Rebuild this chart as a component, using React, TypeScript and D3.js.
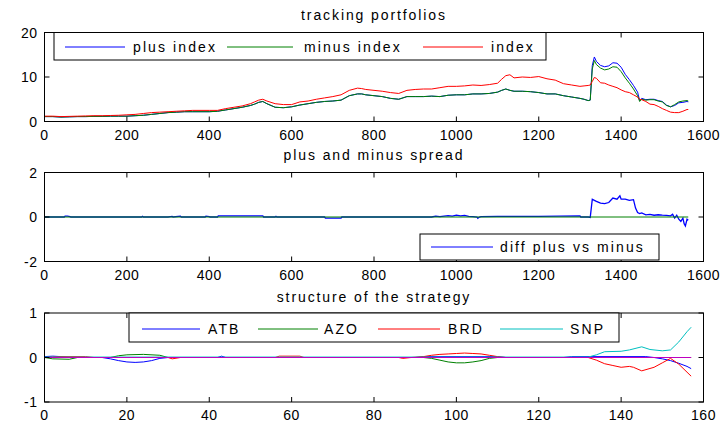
import React from "react";
import * as d3 from "d3";

// ---------- DATA ----------
const dayX = [0,20,40,60,80,100,120,140,160,180,200,220,240,260,280,300,320,340,360,380,400,420,440,460,480,500,
  510,520,530,540,550,560,
  580,600,620,640,660,680,700,720,740,760,
  770,780,
  800,820,840,860,880,900,920,940,960,980,1000,1020,1040,1060,1080,1100,
  1110,1120,1130,1140,
  1160,1180,1200,1220,1240,1260,1280,1300,
  1310,1320,1325,1330,1335,1340,
  1350,1360,1370,1380,1390,1400,1410,1420,1430,1440,
  1445,
  1450,1460,1470,1480,1490,1500,1510,1520,1530,1540,1550,1560,
  1563];

const indexVals = [1.2,1.2,1.1,1.15,1.2,1.25,1.3,1.3,1.35,1.4,1.5,1.6,1.8,2.0,2.1,2.2,2.3,2.4,2.5,2.5,2.5,2.5,2.9,3.2,3.5,4.0,
  4.4,4.8,5.0,4.6,4.3,4.0,
  3.8,3.8,4.4,4.6,5.0,5.3,5.6,6.0,7.0,7.5,
  7.4,7.2,
  7.0,6.8,6.5,6.3,7.0,7.2,7.3,7.3,7.6,7.9,7.9,8.0,8.2,8.1,8.3,8.6,
  9.5,10.3,10.5,9.8,
  10.0,9.9,10.1,9.6,9.3,8.5,8.2,7.9,
  8.0,8.1,8.2,9.0,9.9,9.7,
  8.7,8.6,8.2,7.9,7.6,7.1,6.7,6.5,6.0,5.5,
  5.0,
  4.9,4.5,3.9,3.8,3.4,2.9,2.5,2.1,2.0,2.0,2.3,2.7,
  2.7];

const minusVals = [1.1,1.1,1.0,1.05,1.1,1.1,1.15,1.15,1.2,1.2,1.2,1.3,1.4,1.6,1.8,2.0,2.1,2.2,2.2,2.2,2.2,2.3,2.6,2.9,3.2,3.6,
  3.9,4.3,4.5,4.0,3.6,3.2,
  3.1,3.3,3.7,4.0,4.3,4.5,4.6,4.8,5.8,6.2,
  6.2,6.0,
  5.8,5.6,5.2,5.0,5.6,5.6,5.6,5.7,5.6,5.9,6.0,6.0,6.2,6.2,6.3,6.6,
  7.0,7.3,7.0,6.8,
  6.8,6.7,6.5,6.2,6.2,5.8,5.5,5.2,
  5.0,4.7,4.8,11.8,13.7,12.8,
  12.0,11.6,11.8,12.3,12.2,11.2,9.8,8.6,7.3,5.8,
  4.5,
  5.0,4.8,4.9,4.9,4.6,4.4,3.6,3.3,3.8,4.4,4.6,4.7,
  4.6];

const plusVals = [1.1,1.1,1.0,1.05,1.1,1.1,1.15,1.15,1.2,1.2,1.2,1.3,1.4,1.6,1.8,2.0,2.1,2.2,2.2,2.2,2.2,2.3,2.6,2.9,3.2,3.6,
  3.9,4.3,4.5,4.0,3.6,3.2,
  3.1,3.3,3.7,4.0,4.3,4.5,4.6,4.8,5.8,6.2,
  6.2,6.0,
  5.8,5.6,5.2,5.0,5.6,5.6,5.6,5.7,5.6,5.9,6.0,6.0,6.2,6.2,6.3,6.6,
  7.0,7.3,7.0,6.8,
  6.8,6.7,6.5,6.2,6.2,5.8,5.5,5.2,
  5.0,4.7,4.8,12.6,14.5,13.5,
  12.6,12.3,12.5,13.2,13.1,12.2,10.6,9.4,8.1,6.6,
  4.7,
  5.2,4.9,5.0,5.0,4.7,4.5,3.7,3.3,3.6,4.2,4.3,4.5,
  4.4];

const diffSeries: [number, number][] = [
  [0,0],[48,0],[50,0.04],[56,0.04],[62,0.02],[64,0],[236,0],[238,0.03],[240,0],[300,0],[310,0.03],[312,0],
  [330,0.04],[332,0],[390,0],[392,0.04],[400,0.02],[402,0],[420,0],[422,0.05],[440,0.05],[530,0.05],[532,0],
  [560,0],[562,0.03],[564,0],[680,0],[682,-0.05],[720,-0.05],[722,0],[940,0],[950,0.04],[960,0.02],[980,0.06],
  [990,0.04],[1000,0.08],[1010,0.05],[1020,0.07],[1030,0.03],[1040,0.02],[1050,0],[1052,-0.06],[1056,0],[1060,0.02],
  [1100,0.03],[1200,0.03],[1300,0.05],[1302,0],[1320,0],[1325,-0.02],[1330,0.8],[1335,0.75],[1340,0.7],
  [1350,0.62],[1360,0.6],[1370,0.65],[1380,0.85],[1390,0.8],[1397,0.95],[1400,0.8],[1410,0.8],[1420,0.75],
  [1430,0.78],[1435,0.4],[1440,0.2],[1445,0.15],[1450,0.18],[1460,0.1],[1470,0.12],[1480,0.08],[1490,0.1],
  [1500,0.08],[1510,0.07],[1520,0.05],[1525,0.12],[1530,-0.05],[1535,0.08],[1540,-0.1],[1545,-0.2],
  [1550,-0.05],[1553,-0.3],[1556,-0.4],[1560,-0.1],[1563,-0.15]];

const zeroSeries: [number, number][] = [[0,0],[1563,0]];

const atbSeries: [number, number][] = [[0,0.02],[2,0.03],[4,0.02],[6,0],[14,0],[16,-0.03],[18,-0.07],[20,-0.1],
  [22,-0.11],[24,-0.1],[26,-0.07],[28,-0.02],[30,0],[42,0],[43,0.03],[44,0],[90,0],[92,0.02],[110,0.02],[112,0],
  [126,0],[128,0.02],[146,0.02],[148,0],[150,-0.03],[152,-0.07],[154,-0.13],[156,-0.2],[157,-0.25]];
const azoSeries: [number, number][] = [[0,0],[2,-0.03],[6,-0.04],[8,0],[16,0],[18,0.04],[20,0.06],[24,0.07],
  [28,0.05],[30,0],[92,0],[94,-0.02],[96,-0.06],[98,-0.1],[100,-0.12],[102,-0.12],[104,-0.1],[106,-0.07],
  [108,-0.02],[110,0],[157,0]];
const brdSeries: [number, number][] = [[0,0],[4,0.02],[10,0.02],[12,0],[30,0],[31,-0.03],[33,0],[56,0],[57,0.03],
  [62,0.03],[63,0],[86,0],[87,-0.02],[89,0],[92,0.02],[94,0.05],[96,0.07],[98,0.08],[100,0.09],[102,0.1],
  [104,0.09],[106,0.08],[108,0.05],[110,0.02],[112,0],[132,0],[134,-0.06],[136,-0.14],[138,-0.18],[140,-0.22],
  [142,-0.2],[143,-0.22],[145,-0.3],[148,-0.22],[150,-0.12],[152,-0.02],[154,-0.15],[156,-0.33],[157,-0.42]];
const snpSeries: [number, number][] = [[0,0.01],[132,0.01],[134,0.06],[136,0.13],[140,0.14],[142,0.17],[145,0.24],
  [147,0.18],[150,0.15],[152,0.17],[154,0.35],[156,0.58],[157,0.68]];
const extraSeries: [number, number][] = [[0,0],[157,0]];

const xTicks1 = [0,200,400,600,800,1000,1200,1400,1600];
const yTicks1 = [0,10,20];
const yTicks2 = [-2,0,2];
const xTicks3 = [0,20,40,60,80,100,120,140,160];
const yTicks3 = [-1,0,1];

const titles = ["tracking portfolios","plus and minus spread","structure of the strategy"];

// ---------- LAYOUT ----------
const W = 726, H = 423;
const L = 44.5, R = 703.5;
const FONT = "'Liberation Sans', Arial, sans-serif";
const BLUE = "#0000ff", GREEN = "#008000", RED = "#ff0000", CYAN = "#00bfbf", MAGENTA = "#bf00bf";

type Panel = { top: number; bottom: number; xDom: [number, number]; yDom: [number, number]; xt: number[]; yt: number[]; title: string; titleY: number; labY: number };

const panels: Panel[] = [
  { top: 32.5, bottom: 121.5, xDom: [0,1600], yDom: [0,20], xt: xTicks1, yt: yTicks1, title: titles[0], titleY: 19.5, labY: 139.5 },
  { top: 172.5, bottom: 261.5, xDom: [0,1600], yDom: [-2,2], xt: xTicks1, yt: yTicks2, title: titles[1], titleY: 160, labY: 279.5 },
  { top: 313, bottom: 402, xDom: [0,160], yDom: [-1,1], xt: xTicks3, yt: yTicks3, title: titles[2], titleY: 301.5, labY: 419.5 },
];

function Axes({ p, children }: { p: Panel; children: (x: d3.ScaleLinear<number, number>, y: d3.ScaleLinear<number, number>) => React.ReactNode }) {
  const x = d3.scaleLinear().domain(p.xDom).range([L, R]);
  const y = d3.scaleLinear().domain(p.yDom).range([p.bottom, p.top]);
  const tl = 5;
  return (
    <g>
      <text x={(L + R) / 2} y={p.titleY} textAnchor="middle" fontSize={14} letterSpacing={1.9} fontFamily={FONT}>{p.title}</text>
      {children(x, y)}
      <rect x={L} y={p.top} width={R - L} height={p.bottom - p.top} fill="none" stroke="#000" strokeWidth={1} />
      {p.xt.map((t) => (
        <g key={"x" + t}>
          <line x1={x(t)} x2={x(t)} y1={p.bottom} y2={p.bottom - tl} stroke="#000" />
          <line x1={x(t)} x2={x(t)} y1={p.top} y2={p.top + tl} stroke="#000" />
          <text x={x(t)} y={p.labY} textAnchor="middle" fontSize={14} letterSpacing={0.5} fontFamily={FONT}>{t}</text>
        </g>
      ))}
      {p.yt.map((t) => (
        <g key={"y" + t}>
          <line x1={L} x2={L + tl} y1={y(t)} y2={y(t)} stroke="#000" />
          <line x1={R} x2={R - tl} y1={y(t)} y2={y(t)} stroke="#000" />
          <text x={L - 7} y={y(t) + 5} textAnchor="end" fontSize={14} letterSpacing={0.5} fontFamily={FONT}>{t}</text>
        </g>
      ))}
    </g>
  );
}

type Entry = { label: string; color: string; x1: number; x2: number; tx: number };
function Legend({ bx, by, bw, bh, base, entries }: { bx: number; by: number; bw: number; bh: number; base: number; entries: Entry[] }) {
  const ly = base - 5;
  return (
    <g>
      <rect x={bx} y={by} width={bw} height={bh} fill="#fff" stroke="#000" strokeWidth={1} />
      {entries.map((e) => (
        <g key={e.label}>
          <line x1={e.x1} x2={e.x2} y1={ly} y2={ly} stroke={e.color} strokeWidth={1} />
          <text x={e.tx} y={base} fontSize={14} letterSpacing={2.1} fontFamily={FONT}>{e.label}</text>
        </g>
      ))}
    </g>
  );
}

export default function App() {
  const linePts = d3.line<[number, number]>();
  const mk = (xs: number[], ys: number[]) => xs.map((v, i) => [v, ys[i]] as [number, number]);
  const path = (pts: [number, number][], x: any, y: any) => linePts(pts.map(([a, b]) => [x(a), y(b)] as [number, number])) || "";

  return (
    <svg width={W} height={H} viewBox={`0 0 ${W} ${H}`} style={{ position: "absolute", left: 0, top: 0, background: "#fff" }}>
      <rect x={0} y={0} width={W} height={H} fill="#fff" />
      <Axes p={panels[0]}>
        {(x, y) => (
          <g fill="none" strokeWidth={1}>
            <path d={path(mk(dayX, plusVals), x, y)} stroke={BLUE} />
            <path d={path(mk(dayX, minusVals), x, y)} stroke={GREEN} />
            <path d={path(mk(dayX, indexVals), x, y)} stroke={RED} />
          </g>
        )}
      </Axes>
      <Legend bx={54} by={32.5} bw={492} bh={27.5} base={52} entries={[
        { label: "plus index", color: BLUE, x1: 65, x2: 125, tx: 133 },
        { label: "minus index", color: GREEN, x1: 227, x2: 293, tx: 304 },
        { label: "index", color: RED, x1: 423, x2: 483, tx: 491 },
      ]} />

      <Axes p={panels[1]}>
        {(x, y) => (
          <g fill="none" strokeWidth={1}>
            <path d={path(diffSeries, x, y)} stroke={BLUE} strokeWidth={1.3} />
            <path d={path(zeroSeries, x, y)} stroke={GREEN} />
          </g>
        )}
      </Axes>
      <Legend bx={420} by={234} bw={239} bh={26} base={252} entries={[
        { label: "diff plus vs minus", color: BLUE, x1: 431, x2: 493, tx: 500 },
      ]} />

      <Axes p={panels[2]}>
        {(x, y) => (
          <g fill="none" strokeWidth={1}>
            <path d={path(atbSeries, x, y)} stroke={BLUE} />
            <path d={path(azoSeries, x, y)} stroke={GREEN} />
            <path d={path(brdSeries, x, y)} stroke={RED} />
            <path d={path(snpSeries, x, y)} stroke={CYAN} />
            <path d={path(extraSeries, x, y)} stroke={MAGENTA} />
          </g>
        )}
      </Axes>
      <Legend bx={129} by={313} bw={490} bh={29} base={334} entries={[
        { label: "ATB", color: BLUE, x1: 142, x2: 200, tx: 208 },
        { label: "AZO", color: GREEN, x1: 258, x2: 318, tx: 324 },
        { label: "BRD", color: RED, x1: 378, x2: 440, tx: 448 },
        { label: "SNP", color: CYAN, x1: 500, x2: 563, tx: 570 },
      ]} />
    </svg>
  );
}
